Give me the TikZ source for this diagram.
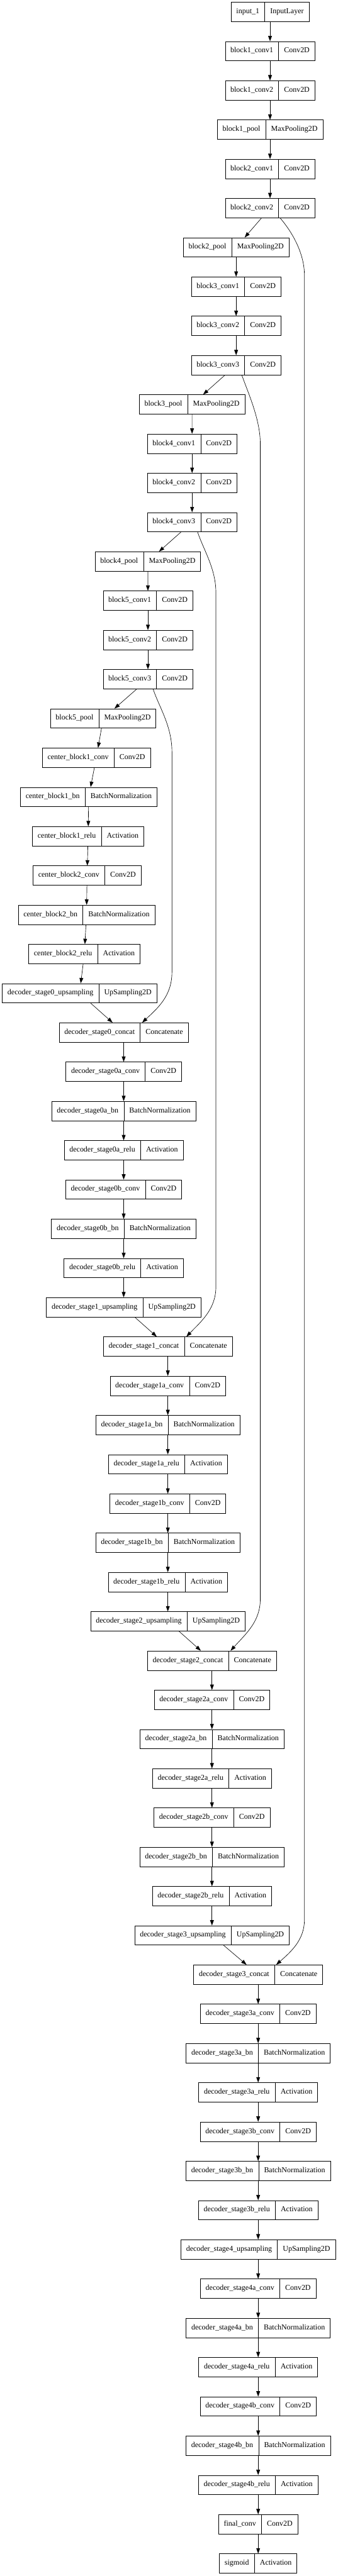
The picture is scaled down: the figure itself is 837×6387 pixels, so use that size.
\documentclass[tikz,border=0pt]{standalone}
\usepackage{fontspec}
\setmainfont{Liberation Serif}
\usetikzlibrary{arrows.meta,shapes.multipart,calc}
\newcommand\lstrut{\rule[-4pt]{0pt}{14pt}}
\newcommand\lay[5]{\node[layer] (#1) at (#2,{29.4+97.33*#3}) {\lstrut #4\nodepart{two}\lstrut #5};}
\begin{document}
\begin{tikzpicture}[x=0.75pt,y=-0.75pt,
  layer/.style={draw=black, line width=0.75pt, rectangle split, rectangle split horizontal,
    rectangle split parts=2, inner xsep=9.75pt, inner ysep=11pt,
    font=\fontsize{14pt}{16pt}\selectfont},
  edge/.style={draw=black, line width=0.75pt, -{Triangle[length=10pt,width=7pt]}}]
\fill[white] (0,0) rectangle (837,6387);
\useasboundingbox (0,0) rectangle (837,6387);
\lay{n0}{669}{0}{input\_1}{InputLayer}
\lay{n1}{669}{1}{block1\_conv1}{Conv2D}
\lay{n2}{669}{2}{block1\_conv2}{Conv2D}
\lay{n3}{669}{3}{block1\_pool}{MaxPooling2D}
\lay{n4}{669}{4}{block2\_conv1}{Conv2D}
\lay{n5}{669}{5}{block2\_conv2}{Conv2D}
\lay{n6}{585}{6}{block2\_pool}{MaxPooling2D}
\lay{n7}{585}{7}{block3\_conv1}{Conv2D}
\lay{n8}{585}{8}{block3\_conv2}{Conv2D}
\lay{n9}{585}{9}{block3\_conv3}{Conv2D}
\lay{n10}{475.7}{10}{block3\_pool}{MaxPooling2D}
\lay{n11}{475.9}{11}{block4\_conv1}{Conv2D}
\lay{n12}{475.9}{12}{block4\_conv2}{Conv2D}
\lay{n13}{475.9}{13}{block4\_conv3}{Conv2D}
\lay{n14}{366.3}{14}{block4\_pool}{MaxPooling2D}
\lay{n15}{366.5}{15}{block5\_conv1}{Conv2D}
\lay{n16}{366.5}{16}{block5\_conv2}{Conv2D}
\lay{n17}{366.5}{17}{block5\_conv3}{Conv2D}
\lay{n18}{255.7}{18}{block5\_pool}{MaxPooling2D}
\lay{n19}{238.6}{19}{center\_block1\_conv}{Conv2D}
\lay{n20}{219.7}{20}{center\_block1\_bn}{BatchNormalization}
\lay{n21}{218.3}{21}{center\_block1\_relu}{Activation}
\lay{n22}{215.7}{22}{center\_block2\_conv}{Conv2D}
\lay{n23}{214.3}{23}{center\_block2\_bn}{BatchNormalization}
\lay{n24}{209.0}{24}{center\_block2\_relu}{Activation}
\lay{n25}{197.0}{25}{decoder\_stage0\_upsampling}{UpSampling2D}
\lay{n26}{306.4}{26}{decoder\_stage0\_concat}{Concatenate}
\lay{n27}{306.4}{27}{decoder\_stage0a\_conv}{Conv2D}
\lay{n28}{306.4}{28}{decoder\_stage0a\_bn}{BatchNormalization}
\lay{n29}{306.4}{29}{decoder\_stage0a\_relu}{Activation}
\lay{n30}{306.4}{30}{decoder\_stage0b\_conv}{Conv2D}
\lay{n31}{306.4}{31}{decoder\_stage0b\_bn}{BatchNormalization}
\lay{n32}{306.4}{32}{decoder\_stage0b\_relu}{Activation}
\lay{n33}{306.4}{33}{decoder\_stage1\_upsampling}{UpSampling2D}
\lay{n34}{415.8}{34}{decoder\_stage1\_concat}{Concatenate}
\lay{n35}{415.8}{35}{decoder\_stage1a\_conv}{Conv2D}
\lay{n36}{415.8}{36}{decoder\_stage1a\_bn}{BatchNormalization}
\lay{n37}{415.8}{37}{decoder\_stage1a\_relu}{Activation}
\lay{n38}{415.8}{38}{decoder\_stage1b\_conv}{Conv2D}
\lay{n39}{415.8}{39}{decoder\_stage1b\_bn}{BatchNormalization}
\lay{n40}{415.8}{40}{decoder\_stage1b\_relu}{Activation}
\lay{n41}{415.8}{41}{decoder\_stage2\_upsampling}{UpSampling2D}
\lay{n42}{525.1}{42}{decoder\_stage2\_concat}{Concatenate}
\lay{n43}{525.1}{43}{decoder\_stage2a\_conv}{Conv2D}
\lay{n44}{525.1}{44}{decoder\_stage2a\_bn}{BatchNormalization}
\lay{n45}{525.1}{45}{decoder\_stage2a\_relu}{Activation}
\lay{n46}{525.1}{46}{decoder\_stage2b\_conv}{Conv2D}
\lay{n47}{525.1}{47}{decoder\_stage2b\_bn}{BatchNormalization}
\lay{n48}{525.1}{48}{decoder\_stage2b\_relu}{Activation}
\lay{n49}{525.1}{49}{decoder\_stage3\_upsampling}{UpSampling2D}
\lay{n50}{639.6}{50}{decoder\_stage3\_concat}{Concatenate}
\lay{n51}{639.6}{51}{decoder\_stage3a\_conv}{Conv2D}
\lay{n52}{639.6}{52}{decoder\_stage3a\_bn}{BatchNormalization}
\lay{n53}{639.6}{53}{decoder\_stage3a\_relu}{Activation}
\lay{n54}{639.6}{54}{decoder\_stage3b\_conv}{Conv2D}
\lay{n55}{639.6}{55}{decoder\_stage3b\_bn}{BatchNormalization}
\lay{n56}{639.6}{56}{decoder\_stage3b\_relu}{Activation}
\lay{n57}{639.6}{57}{decoder\_stage4\_upsampling}{UpSampling2D}
\lay{n58}{639.6}{58}{decoder\_stage4a\_conv}{Conv2D}
\lay{n59}{639.6}{59}{decoder\_stage4a\_bn}{BatchNormalization}
\lay{n60}{639.6}{60}{decoder\_stage4a\_relu}{Activation}
\lay{n61}{639.6}{61}{decoder\_stage4b\_conv}{Conv2D}
\lay{n62}{639.6}{62}{decoder\_stage4b\_bn}{BatchNormalization}
\lay{n63}{639.6}{63}{decoder\_stage4b\_relu}{Activation}
\lay{n64}{639.6}{64}{final\_conv}{Conv2D}
\lay{n65}{639.6}{65}{sigmoid}{Activation}
% sequential edges
\foreach \i [evaluate=\i as \j using int(\i+1)] in {0,...,64}
  \draw[edge] (n\i) -- (n\j);
% skip connections
\draw[edge] ($(n5.south)+(25,0)$) .. controls (715,565) and (754.2,620) .. (754.2,683)
  -- (754.2,4760) .. controls (754.2,4810) and (720,4840) .. ($(n50.north)+(44.6,0)$);
\draw[edge] ($(n9.south)+(14,0)$) .. controls (615,975) and (644.8,1040) .. (644.8,1100)
  -- (644.8,3965) .. controls (644.8,4020) and (610,4050) .. ($(n42.north)+(46.2,0)$);
\draw[edge] ($(n13.south)+(13.6,0)$) .. controls (505,1365) and (534.9,1410) .. (534.9,1470)
  -- (534.9,3190) .. controls (534.9,3245) and (500,3275) .. ($(n34.north)+(45.9,0)$);
\draw[edge] ($(n17.south)+(12.8,0)$) .. controls (395,1755) and (426,1800) .. (426,1865)
  -- (426,2410) .. controls (426,2470) and (390,2500) .. ($(n26.north)+(45.9,0)$);
\end{tikzpicture}
\end{document}
